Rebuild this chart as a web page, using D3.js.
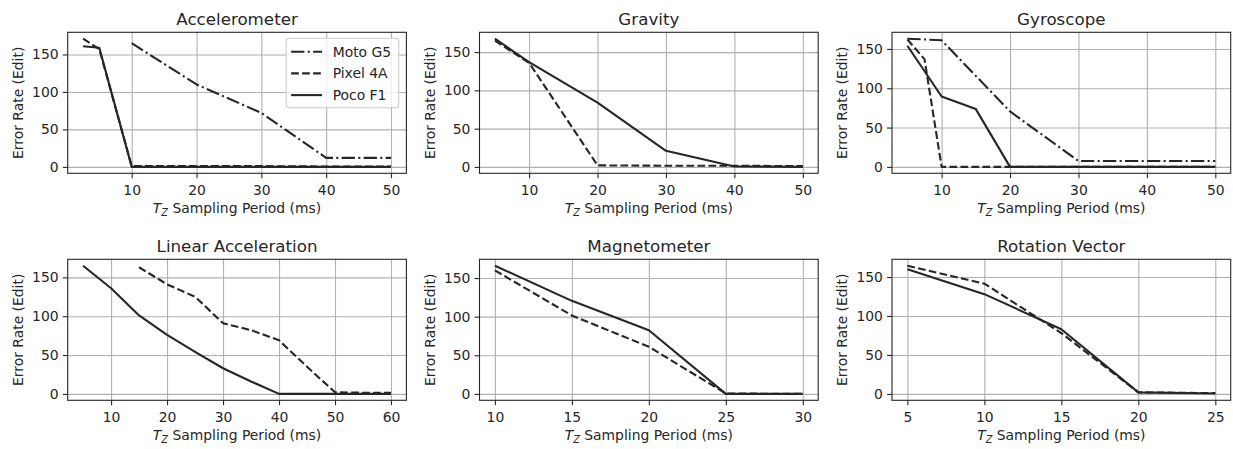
<!DOCTYPE html>
<html>
<head>
<meta charset="utf-8">
<script src="https://cdn.jsdelivr.net/npm/d3@7"></script>
<style>
	body { margin: 0; background: #fff; }
	text { font-family: 'DejaVu Sans', sans-serif; fill: #262626; }
</style>
</head>
<body>
<div id="chart"></div>
<script>
// chart values
var panelTitles = [ 'Accelerometer', 'Gravity', 'Gyroscope', 'Linear Acceleration', 'Magnetometer', 'Rotation Vector' ];
var deviceNames = [ 'Moto G5', 'Pixel 4A', 'Poco F1' ];

var accX = [ 2.5, 5, 10, 20, 30, 40, 50 ];
var accMoto = [ null, null, 165, 110, 72, 12, 12 ];
var accPixel = [ 171, 157, 1, 1, 1, 0.5, 0.5 ];
var accPoco = [ 161, 159, 0, 0, 0, 0, 0 ];

var gravX = [ 5, 10, 20, 30, 40, 50 ];
var gravMoto = [ null, null, null, null, null, null ];
var gravPixel = [ 165, 136, 2, 1.5, 1.5, 1 ];
var gravPoco = [ 167.5, 137, 84, 21, 0.5, 0 ];

var gyroX = [ 5, 7.5, 10, 15, 20, 30, 40, 50 ];
var gyroMoto = [ 163, null, 161, null, 70.5, 7.5, 7.5, 7.5 ];
var gyroPixel = [ 162, 137, 0, 0, 0, 0, 0, 0 ];
var gyroPoco = [ 154, null, 89.5, 73.5, 0, 0, 0, 0 ];

var linX = [ 5, 10, 15, 20, 25, 30, 35, 40, 45, 50, 55, 60 ];
var linMoto = [ null, null, null, null, null, null, null, null, null, null, null, null ];
var linPixel = [ null, null, 163, 141, 125, 91, 82, 69, 35, 2, 1.5, 1.5 ];
var linPoco = [ 165, 136, 101, 76, 54, 33, 16, 0, 0, 0, 0, 0 ];

var magX = [ 10, 15, 20, 25, 30 ];
var magMoto = [ null, null, null, null, null ];
var magPixel = [ 160, 101.5, 61, 0.5, 0 ];
var magPoco = [ 166, 120.5, 82.5, 0, 0 ];

var rotX = [ 5, 10, 15, 20, 25 ];
var rotMoto = [ null, null, null, null, null ];
var rotPixel = [ 164.5, 141.5, 78, 2, 1 ];
var rotPoco = [ 160, 128, 83, 2, 0.5 ];

var xTickLabels = [
	[ 10, 20, 30, 40, 50 ],
	[ 10, 20, 30, 40, 50 ],
	[ 10, 20, 30, 40, 50 ],
	[ 10, 20, 30, 40, 50, 60 ],
	[ 10, 15, 20, 25, 30 ],
	[ 5, 10, 15, 20, 25 ]
];
var yTickLabels = [ 0, 50, 100, 150 ];

var panels = [
	{ x: accX, series: [ accMoto, accPixel, accPoco ] },
	{ x: gravX, series: [ gravMoto, gravPixel, gravPoco ] },
	{ x: gyroX, series: [ gyroMoto, gyroPixel, gyroPoco ] },
	{ x: linX, series: [ linMoto, linPixel, linPoco ] },
	{ x: magX, series: [ magMoto, magPixel, magPoco ] },
	{ x: rotX, series: [ rotMoto, rotPixel, rotPoco ] }
];

// styling / layout
var W = 1233, H = 449;
var colLeft = [ 67.7, 479.5, 892 ], rowTop = [ 32.3, 259.3 ];
var pw = 338.7, ph = 141;
var ink = '#262626';
var dashes = [ '13.3,3.3,2.1,3.3', '7.7,3.3', null ];
var fs = 13.9;

var svg = d3.select('#chart').append('svg').attr('width', W).attr('height', H);
svg.append('rect').attr('width', W).attr('height', H).attr('fill', '#fff');

// matplotlib style 5% margins
function padded(ext) {
	var r = ext[1] - ext[0];
	return [ ext[0] - 0.05 * r, ext[1] + 0.05 * r ];
}

panels.forEach(function(p, i) {
	var left = colLeft[i % 3], top = rowTop[Math.floor(i / 3)];
	var g = svg.append('g').attr('transform', 'translate(' + left + ',' + top + ')');

	var pts = [];
	p.series.forEach(function(s) {
		s.forEach(function(v, j) {
			if (v != null) pts.push({ x: p.x[j], y: v });
		});
	});

	var xScale = d3.scaleLinear().domain(padded(d3.extent(pts, function(d) { return d.x; }))).range([ 0, pw ]);
	var yScale = d3.scaleLinear().domain(padded([ 0, d3.max(pts, function(d) { return d.y; }) ])).range([ ph, 0 ]);

	// grid
	g.append('g')
		.attr('transform', 'translate(0,' + ph + ')')
		.call(d3.axisBottom(xScale).tickValues(xTickLabels[i]).tickSize(-ph).tickFormat(''))
		.call(function(a) {
			a.select('.domain').remove();
			a.selectAll('line').attr('stroke', '#b0b0b0').attr('stroke-width', 1.1);
		});
	g.append('g')
		.call(d3.axisLeft(yScale).tickValues(yTickLabels).tickSize(-pw).tickFormat(''))
		.call(function(a) {
			a.select('.domain').remove();
			a.selectAll('line').attr('stroke', '#b0b0b0').attr('stroke-width', 1.1);
		});

	// lines
	var line = d3.line()
		.x(function(d) { return xScale(d.x); })
		.y(function(d) { return yScale(d.y); });

	p.series.forEach(function(s, k) {
		var d = [];
		s.forEach(function(v, j) {
			if (v != null) d.push({ x: p.x[j], y: v });
		});
		if (d.length == 0) return;
		g.append('path')
			.datum(d)
			.attr('d', line)
			.attr('fill', 'none')
			.attr('stroke', ink)
			.attr('stroke-width', 2.1)
			.attr('stroke-linejoin', 'round')
			.attr('stroke-dasharray', dashes[k]);
	});

	// ticks + labels
	g.append('g')
		.attr('transform', 'translate(0,' + ph + ')')
		.call(d3.axisBottom(xScale).tickValues(xTickLabels[i]).tickSize(4.9).tickPadding(7))
		.call(function(a) {
			a.select('.domain').remove();
			a.selectAll('line').attr('stroke', ink).attr('stroke-width', 1.1);
			a.selectAll('text').attr('font-size', fs).attr('font-family', null).style('fill', ink);
		});
	g.append('g')
		.call(d3.axisLeft(yScale).tickValues(yTickLabels).tickSize(4.9).tickPadding(4.2))
		.call(function(a) {
			a.select('.domain').remove();
			a.selectAll('line').attr('stroke', ink).attr('stroke-width', 1.1);
			a.selectAll('text').attr('font-size', fs).attr('font-family', null).style('fill', ink);
		});

	// spines
	g.append('rect')
		.attr('width', pw)
		.attr('height', ph)
		.attr('fill', 'none')
		.attr('stroke', ink)
		.attr('stroke-width', 1.1);

	// title
	g.append('text')
		.attr('x', pw / 2)
		.attr('y', -7.6)
		.attr('text-anchor', 'middle')
		.attr('font-size', 16.7)
		.text(panelTitles[i]);

	// x label
	var xl = g.append('text')
		.attr('x', pw / 2)
		.attr('y', ph + 40)
		.attr('text-anchor', 'middle')
		.attr('font-size', fs);
	xl.append('tspan').attr('font-style', 'italic').text('T');
	xl.append('tspan').attr('font-style', 'italic').attr('font-size', fs * 0.7).attr('dy', 2.6).text('Z');
	xl.append('tspan').attr('dy', -2.6).text(' Sampling Period (ms)');

	// y label
	g.append('text')
		.attr('transform', 'translate(-45,' + ph / 2 + ') rotate(-90)')
		.attr('text-anchor', 'middle')
		.attr('font-size', fs)
		.text('Error Rate (Edit)');

	// legend only on the first panel
	if (i == 0) {
		var lg = g.append('g').attr('transform', 'translate(' + (pw - 120.3) + ',6)');
		lg.append('rect')
			.attr('width', 112.6)
			.attr('height', 69.4)
			.attr('rx', 2.8)
			.attr('fill', '#fff')
			.attr('fill-opacity', 0.8)
			.attr('stroke', '#cccccc')
			.attr('stroke-width', 1.1);
		deviceNames.forEach(function(name, k) {
			var yy = 13.4 + k * 21.7;
			lg.append('line')
				.attr('x1', 5)
				.attr('x2', 36)
				.attr('y1', yy)
				.attr('y2', yy)
				.attr('stroke', ink)
				.attr('stroke-width', 2.1)
				.attr('stroke-dasharray', dashes[k]);
			lg.append('text')
				.attr('x', 46.6)
				.attr('y', yy)
				.attr('dy', '0.36em')
				.attr('font-size', fs)
				.text(name);
		});
	}
});
</script>
</body>
</html>
